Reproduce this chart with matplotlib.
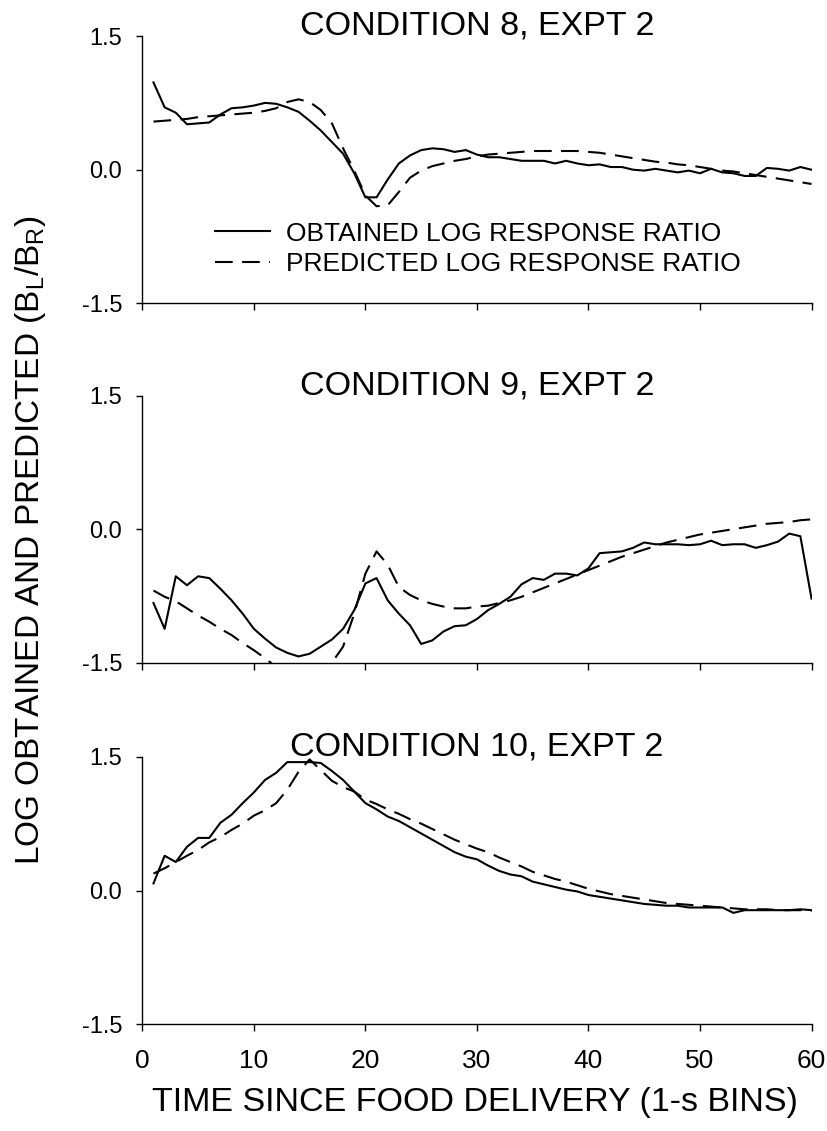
import matplotlib
matplotlib.use("Agg")
import matplotlib.pyplot as plt
from matplotlib import font_manager

# 1-s time bins since food delivery
time_bins = list(range(1, 61))

cond8_obtained = [0.98, 0.70, 0.64, 0.51, 0.52, 0.53, 0.62, 0.69, 0.70, 0.72,
                  0.75, 0.74, 0.70, 0.65, 0.55, 0.44, 0.31, 0.18, -0.04, -0.31,
                  -0.31, -0.11, 0.07, 0.16, 0.22, 0.24, 0.23, 0.20, 0.22, 0.17,
                  0.14, 0.14, 0.12, 0.10, 0.10, 0.10, 0.07, 0.10, 0.07, 0.05,
                  0.06, 0.03, 0.03, 0.00, -0.01, 0.01, -0.01, -0.03, -0.01, -0.04,
                  0.01, -0.03, -0.04, -0.07, -0.07, 0.02, 0.01, -0.01, 0.03, 0.00]
cond8_predicted = [0.54, 0.55, 0.56, 0.57, 0.59, 0.60, 0.61, 0.62, 0.63, 0.64,
                   0.66, 0.69, 0.76, 0.79, 0.76, 0.67, 0.52, 0.24, -0.01, -0.29,
                   -0.41, -0.40, -0.25, -0.09, -0.01, 0.04, 0.07, 0.10, 0.12, 0.15,
                   0.17, 0.18, 0.19, 0.20, 0.21, 0.21, 0.21, 0.21, 0.21, 0.20,
                   0.19, 0.17, 0.15, 0.13, 0.11, 0.09, 0.08, 0.06, 0.05, 0.03,
                   0.01, -0.01, -0.02, -0.04, -0.06, -0.08, -0.10, -0.12, -0.14, -0.16]

cond9_obtained = [-0.83, -1.12, -0.53, -0.63, -0.53, -0.55, -0.67, -0.80, -0.95, -1.12,
                  -1.23, -1.33, -1.39, -1.43, -1.40, -1.32, -1.24, -1.12, -0.91, -0.61,
                  -0.55, -0.80, -0.95, -1.08, -1.29, -1.25, -1.15, -1.09, -1.08, -1.01,
                  -0.91, -0.84, -0.76, -0.62, -0.55, -0.57, -0.50, -0.50, -0.52, -0.44,
                  -0.27, -0.26, -0.25, -0.21, -0.15, -0.17, -0.17, -0.17, -0.18, -0.17,
                  -0.13, -0.18, -0.17, -0.17, -0.21, -0.18, -0.14, -0.05, -0.08, -0.78]
cond9_predicted = [-0.69, -0.76, -0.81, -0.89, -0.97, -1.04, -1.12, -1.19, -1.28, -1.36,
                   -1.45, -1.55, -1.63, -1.68, -1.70, -1.64, -1.50, -1.32, -0.95, -0.50,
                   -0.25, -0.40, -0.65, -0.74, -0.80, -0.84, -0.87, -0.89, -0.89, -0.87,
                   -0.86, -0.83, -0.80, -0.76, -0.71, -0.66, -0.61, -0.56, -0.51, -0.46,
                   -0.41, -0.36, -0.31, -0.27, -0.23, -0.19, -0.15, -0.12, -0.09, -0.06,
                   -0.04, -0.02, 0.00, 0.02, 0.04, 0.06, 0.07, 0.08, 0.10, 0.11]

cond10_obtained = [0.08, 0.39, 0.32, 0.49, 0.59, 0.59, 0.76, 0.85, 0.98, 1.10,
                   1.24, 1.32, 1.44, 1.44, 1.44, 1.43, 1.34, 1.24, 1.11, 0.98,
                   0.91, 0.83, 0.78, 0.71, 0.64, 0.57, 0.50, 0.43, 0.38, 0.35,
                   0.28, 0.22, 0.18, 0.16, 0.10, 0.07, 0.04, 0.01, -0.01, -0.05,
                   -0.07, -0.09, -0.11, -0.13, -0.15, -0.16, -0.17, -0.17, -0.19, -0.19,
                   -0.19, -0.19, -0.25, -0.22, -0.22, -0.22, -0.22, -0.22, -0.21, -0.22]
cond10_predicted = [0.19, 0.25, 0.32, 0.39, 0.455, 0.54, 0.60, 0.68, 0.75, 0.84,
                    0.90, 0.98, 1.13, 1.33, 1.47, 1.35, 1.23, 1.16, 1.11, 1.02,
                    0.97, 0.91, 0.86, 0.80, 0.75, 0.69, 0.63, 0.57, 0.52, 0.47,
                    0.43, 0.37, 0.32, 0.27, 0.21, 0.17, 0.13, 0.10, 0.06, 0.02,
                    -0.01, -0.04, -0.06, -0.08, -0.10, -0.12, -0.14, -0.15, -0.16, -0.17,
                    -0.18, -0.19, -0.20, -0.21, -0.21, -0.21, -0.22, -0.22, -0.22, -0.23]

panel_titles = ["CONDITION 8, EXPT 2", "CONDITION 9, EXPT 2", "CONDITION 10, EXPT 2"]
legend_labels = ["OBTAINED LOG RESPONSE RATIO", "PREDICTED LOG RESPONSE RATIO"]
y_ticks = [-1.5, 0.0, 1.5]
y_tick_labels = ["-1.5", "0.0", "1.5"]
x_ticks = [0, 10, 20, 30, 40, 50, 60]
x_tick_labels = ["0", "10", "20", "30", "40", "50", "60"]

plt.rcParams['font.family'] = 'Liberation Sans'
plt.rcParams['mathtext.default'] = 'regular'

# the x-axis texts in the original look condensed
installed = {f.name for f in font_manager.fontManager.ttflist}
narrow_font = 'Liberation Sans Narrow' if 'Liberation Sans Narrow' in installed else 'Liberation Sans'

DASH = (0, (8.5, 4.5))


def draw_panel(fig, rect, obtained, predicted, title, show_xlabels=False):
    ax = fig.add_axes(rect)
    ax.plot(time_bins, obtained, color='black', lw=1.5, label=legend_labels[0])
    ax.plot(time_bins, predicted, color='black', lw=1.5, linestyle=DASH, label=legend_labels[1])
    ax.set_xlim(0, 60)
    ax.set_ylim(-1.5, 1.5)
    ax.spines['top'].set_visible(False)
    ax.spines['right'].set_visible(False)
    for side in ['left', 'bottom']:
        ax.spines[side].set_linewidth(1.0)
    ax.set_yticks(y_ticks)
    ax.set_yticklabels(y_tick_labels, fontsize=17)
    ax.set_xticks(x_ticks)
    if show_xlabels:
        ax.set_xticklabels(x_tick_labels, fontsize=19, family=narrow_font)
    else:
        ax.set_xticklabels([])
    ax.tick_params(axis='y', direction='out', length=4.5, width=1.0, pad=10)
    ax.tick_params(axis='x', direction='out', length=5, width=1.0, pad=13)
    # fixed y keeps the title sitting right on top of the plot area
    ax.set_title(title, fontsize=24.5, y=1.0, pad=1)
    return ax


fig = plt.figure(figsize=(8.28, 11.31), dpi=100)

left, width = 0.1719, 0.8082
ax1 = draw_panel(fig, [left, 0.7318, width, 0.2363], cond8_obtained, cond8_predicted, panel_titles[0])
ax2 = draw_panel(fig, [left, 0.4141, width, 0.2361], cond9_obtained, cond9_predicted, panel_titles[1])
ax3 = draw_panel(fig, [left, 0.0943, width, 0.2366], cond10_obtained, cond10_predicted, panel_titles[2],
                 show_xlabels=True)

ax1.legend(loc='center left', bbox_to_anchor=(0.108, 0.204), frameon=False, fontsize=19,
           handlelength=2.1, handletextpad=0.62, labelspacing=0.25, borderpad=0, borderaxespad=0)

fig.text(0.037, 0.5225, r'LOG OBTAINED AND PREDICTED (B$_{L}$/B$_{R}$)', rotation=90,
         ha='center', va='center', fontsize=24)
fig.text(0.5737, 0.0248, 'TIME SINCE FOOD DELIVERY (1-s BINS)', ha='center', va='center',
         fontsize=24.5, family=narrow_font)

fig.savefig('out.png', dpi=100)
